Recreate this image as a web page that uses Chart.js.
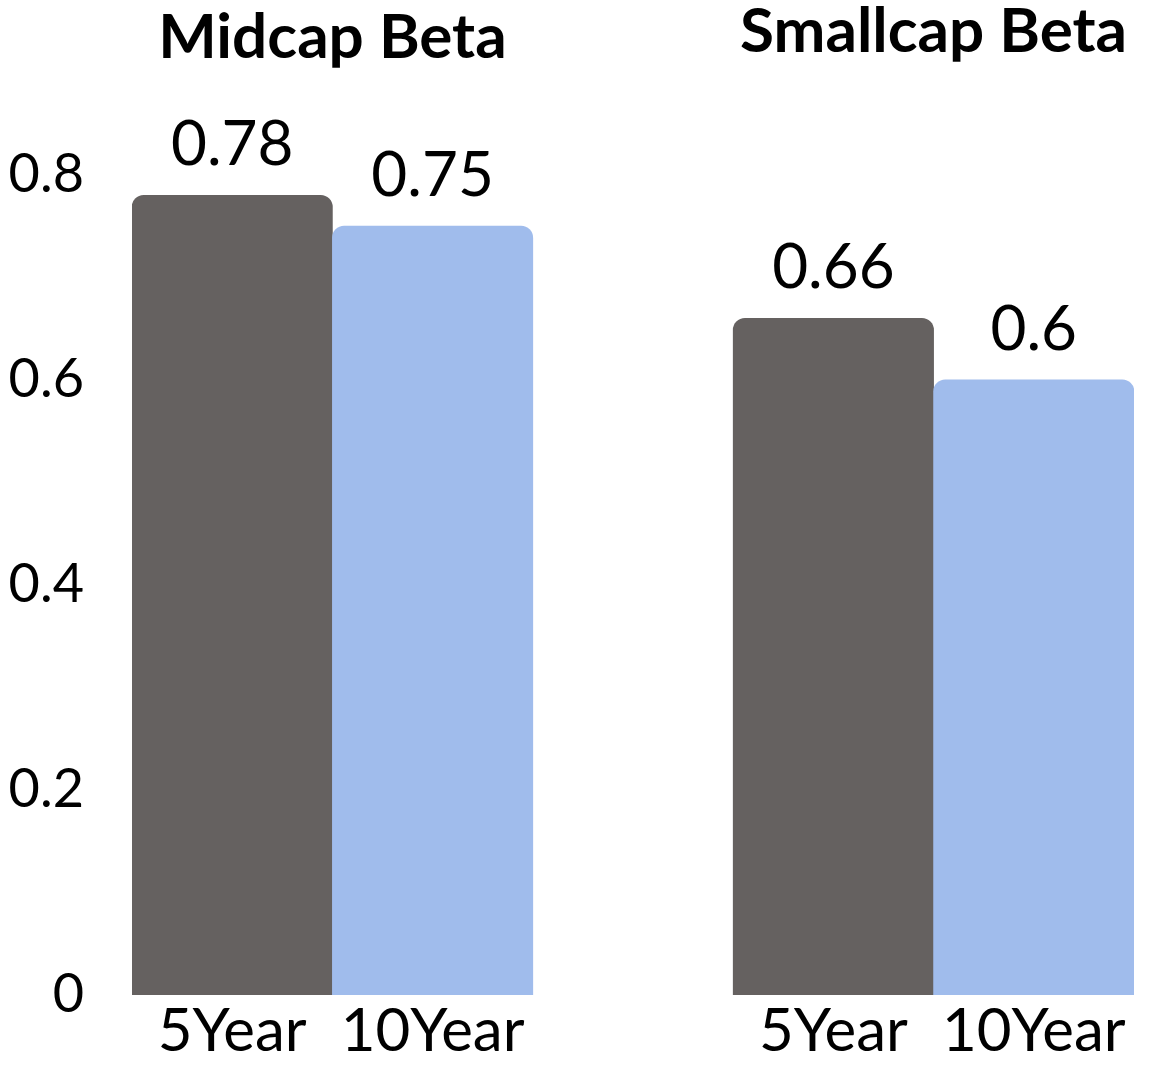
<!DOCTYPE html>
<html>
<head>
<meta charset="utf-8">
<script src="https://cdn.jsdelivr.net/npm/chart.js@4"></script>
<style>
  body { margin: 0; background: #fff; }
  canvas { display: block; }
</style>
</head>
<body>
<canvas id="beta-chart" width="1152" height="1070"></canvas>
<script>
var categories = ['5Year', '10Year', '', '5Year', '10Year'];
var betaValues = [0.78, 0.75, null, 0.66, 0.6];
var barColors = ['#656160', '#a0bcec', '#ffffff', '#656160', '#a0bcec'];
var groupTitles = ['Midcap Beta', 'Smallcap Beta'];
var yTicks = [0, 0.2, 0.4, 0.6, 0.8];

var FONT = 'Lato, "Noto Sans", sans-serif';

var labelPlugin = {
  id: 'labels',
  afterDatasetsDraw: function (chart) {
    var ctx = chart.ctx;
    var meta = chart.getDatasetMeta(0);
    ctx.save();
    ctx.fillStyle = '#000';
    ctx.textAlign = 'center';
    ctx.textBaseline = 'middle';
    ctx.font = '62px ' + FONT;
    meta.data.forEach(function (bar, i) {
      if (betaValues[i] == null) return;
      ctx.fillText(String(betaValues[i]), bar.x, bar.y - 50);
    });
    // group titles, centred over each pair of bars
    var x = chart.scales.x;
    var titleY = [38, 32];
    ctx.font = 'bold 62px ' + FONT;
    groupTitles.forEach(function (t, g) {
      var cx = (x.getPixelForValue(g * 3) + x.getPixelForValue(g * 3 + 1)) / 2;
      ctx.fillText(t, cx, titleY[g]);
    });
    ctx.restore();
  }
};

window.addEventListener('load', function () {
  var ctx = document.getElementById('beta-chart').getContext('2d');
  var chart = new Chart(ctx, {
    type: 'bar',
    data: {
      labels: categories,
      datasets: [{
        data: betaValues,
        backgroundColor: barColors,
        borderRadius: { topLeft: 12, topRight: 12 },
        borderSkipped: 'start',
        categoryPercentage: 1,
        barPercentage: 1
      }]
    },
    options: {
      responsive: false,
      animation: false,
      layout: { padding: { top: 70.5, right: 18, left: 0, bottom: 0 } },
      plugins: { legend: { display: false }, tooltip: { enabled: false } },
      scales: {
        x: {
          grid: { display: false },
          border: { display: false },
          ticks: { color: '#000', font: { family: FONT, size: 60 }, padding: -7, maxRotation: 0, autoSkip: false },
          afterFit: function (s) { s.height = 75; }
        },
        y: {
          min: 0,
          max: 0.9,
          grid: { display: false },
          border: { display: false },
          ticks: { color: '#000', font: { family: FONT, size: 54 }, padding: 40 },
          afterBuildTicks: function (s) { s.ticks = yTicks.map(function (v) { return { value: v }; }); },
          afterFit: function (s) { s.width = 132; }
        }
      }
    },
    plugins: [labelPlugin]
  });
});
</script>
</body>
</html>
